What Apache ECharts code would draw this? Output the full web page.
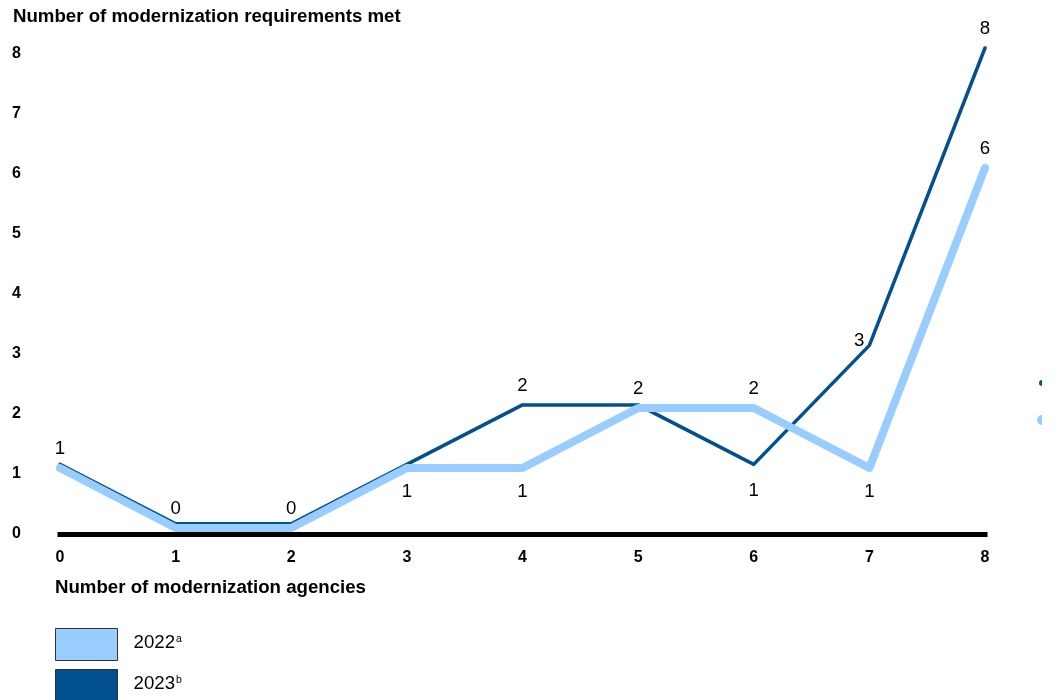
<!DOCTYPE html>
<html>
<head>
<meta charset="utf-8">
<script src="https://cdn.jsdelivr.net/npm/echarts@6/dist/echarts.min.js"></script>
<style>
  html, body { margin: 0; padding: 0; background: #fff; }
  #chart { width: 1055px; height: 700px; }
</style>
</head>
<body>
<div id="chart"></div>
<script>
const categories = ['0', '1', '2', '3', '4', '5', '6', '7', '8']
const yTicks = [0, 1, 2, 3, 4, 5, 6, 7, 8]
const values2022 = [1, 0, 0, 1, 1, 2, 2, 1, 6]
const values2023 = [1, 0, 0, 1, 2, 2, 1, 3, 8]

// where each point's value label goes (null = hidden, the other series shows it)
const labelPos2022 = ['top', 'top', 'top', 'bottom', 'bottom', 'top', 'top', 'bottom', 'top']
const labelPos2023 = [null, null, null, null, 'top', null, 'bottom', 'left', 'top']

const font = 'Liberation Sans, Arial, sans-serif'
const light = '#99CCFF'
const dark = '#03508F'

function points(values, positions, below) {
  return values.map((v, i) => {
    const pos = positions[i]
    if (!pos) return { value: v, label: { show: false } }
    const label = { show: true, position: pos, distance: 10 }
    if (pos === 'bottom') label.distance = below
    if (pos === 'left') { label.distance = 5; label.offset = [0, -5] }
    return { value: v, label: label }
  })
}

const chart = echarts.init(document.getElementById('chart'))

const option = {
  animation: false,
  textStyle: { fontFamily: font },
  title: [
    {
      text: 'Number of modernization requirements met',
      left: 13, top: 7, padding: 0,
      textStyle: { fontFamily: font, fontSize: 18.67, fontWeight: 'bold', color: '#000' }
    },
    {
      text: 'Number of modernization agencies',
      left: 55, top: 578, padding: 0,
      textStyle: { fontFamily: font, fontSize: 18.67, fontWeight: 'bold', color: '#000' }
    }
  ],
  grid: { left: 60, right: 70, top: 48, bottom: 172 },
  xAxis: {
    type: 'category',
    data: categories,
    boundaryGap: false,
    offset: 6,
    axisLine: { onZero: false, lineStyle: { color: '#000', width: 5, cap: 'square' } },
    axisTick: { show: false },
    axisLabel: { margin: 16, fontSize: 16, fontWeight: 'bold', color: '#000', fontFamily: font }
  },
  yAxis: [
    {
      type: 'value',
      min: yTicks[0],
      max: yTicks[yTicks.length - 1],
      interval: 1,
      axisLine: { show: false },
      axisTick: { show: false },
      splitLine: { show: false },
      axisLabel: {
        align: 'left', margin: 48, verticalAlign: 'top', lineHeight: 11,
        fontSize: 16, fontWeight: 'bold', color: '#000', fontFamily: font
      }
    },
    {
      // hidden twin, nudged a few px up at the bottom so the 2023 line sits on the edge of 2022 like the original
      type: 'value',
      min: -0.07,
      max: 8,
      show: false
    }
  ],
  legend: {
    orient: 'vertical',
    left: 55, top: 628, padding: 0,
    height: 80,
    itemWidth: 62, itemHeight: 32, itemGap: 8,
    icon: 'rect',
    selectedMode: false,
    itemStyle: { borderColor: '#333', borderWidth: 1 },
    data: ['2022', '2023'],
    formatter: name => '{y|' + name + '}{s|' + (name === '2022' ? 'a' : 'b') + '}',
    textStyle: {
      padding: [0, 0, 3, 11],
      rich: {
        y: { fontSize: 18.67, color: '#000', fontFamily: font },
        s: { fontSize: 10.5, color: '#000', fontFamily: font, padding: [0, 0, 8, 1] }
      }
    }
  },
  series: [
    {
      name: '2023',
      type: 'line',
      yAxisIndex: 1,
      data: points(values2023, labelPos2023, 17),
      symbol: 'circle',
      symbolSize: 0.01,
      showSymbol: true,
      clip: false,
      color: dark,
      z: 2,
      itemStyle: { color: dark },
      lineStyle: { color: dark, width: 3.5, cap: 'round', join: 'round' },
      label: { fontSize: 18.67, color: '#000', fontFamily: font }
    },
    {
      name: '2022',
      type: 'line',
      data: points(values2022, labelPos2022, 14),
      symbol: 'circle',
      symbolSize: 0.01,
      showSymbol: true,
      clip: false,
      color: light,
      z: 3,
      itemStyle: { color: light },
      lineStyle: { color: light, width: 8, cap: 'round', join: 'round' },
      label: { fontSize: 18.67, color: '#000', fontFamily: font }
    }
  ],
  graphic: [
    {
      type: 'sector', left: 1039, top: 380,
      shape: { cx: 3, cy: 3, r: 3, startAngle: Math.PI / 2, endAngle: Math.PI * 1.5 },
      style: { fill: dark }
    },
    {
      type: 'sector', left: 1037, top: 415,
      shape: { cx: 5, cy: 5, r: 5, startAngle: Math.PI / 2, endAngle: Math.PI * 1.5 },
      style: { fill: light }
    }
  ]
}

chart.setOption(option)
</script>
</body>
</html>
